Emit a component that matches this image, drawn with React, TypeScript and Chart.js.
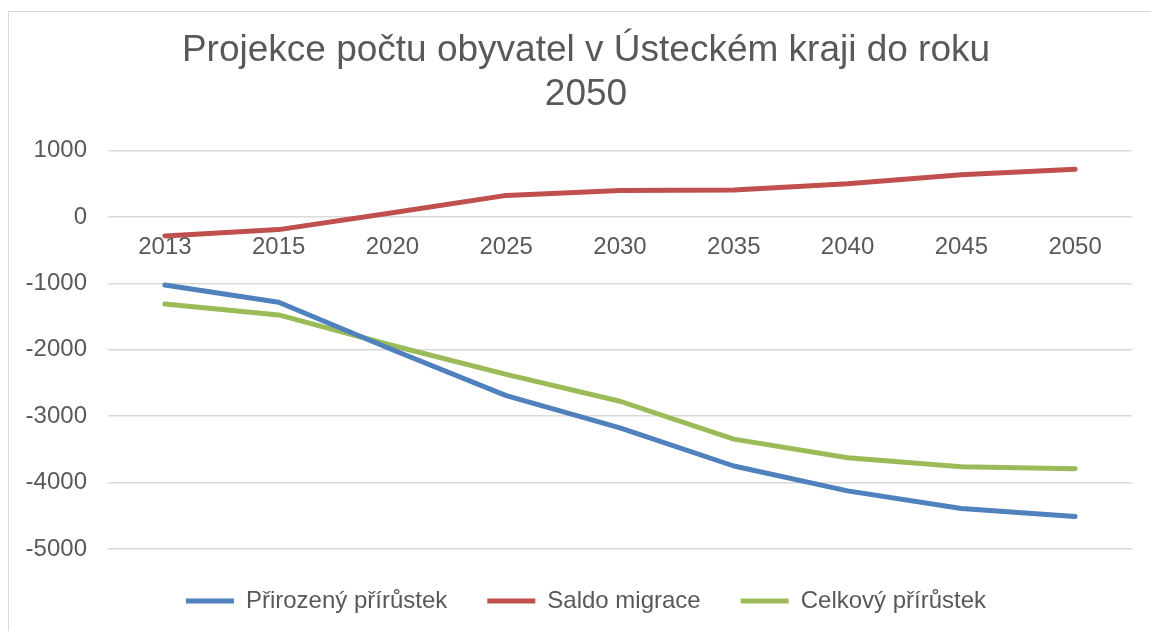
import React, { useEffect, useRef } from "react";
import { Chart, registerables } from "chart.js";

Chart.register(...registerables);

const titleLines = ["Projekce počtu obyvatel v Ústeckém kraji do roku", "2050"];
const years = ["2013", "2015", "2020", "2025", "2030", "2035", "2040", "2045", "2050"];
const prirozenyPrirustek = [-1025, -1285, -2000, -2690, -3175, -3750, -4125, -4390, -4510];
const saldoMigrace = [-285, -190, 65, 325, 400, 405, 500, 635, 720];
const celkovyPrirustek = [-1310, -1475, -1935, -2370, -2775, -3345, -3625, -3760, -3790];
const seriesNames = ["Přirozený přírůstek", "Saldo migrace", "Celkový přírůstek"];
const yMin = -5000;
const yMax = 1000;
const yStep = 1000;

const FONT = "'Liberation Sans', Arial, sans-serif";
const TEXT = "#595959";
const GRID = "#d9d9d9";

export default function App() {
  const ref = useRef<HTMLCanvasElement | null>(null);

  useEffect(() => {
    if (!ref.current) return;
    const mk = (label: string, data: number[], color: string) => ({
      label,
      data,
      borderColor: color,
      backgroundColor: color,
      borderWidth: 5,
      borderCapStyle: "round" as const,
      borderJoinStyle: "round" as const,
      pointRadius: 0,
      pointHoverRadius: 0,
      tension: 0,
      fill: false,
    });
    const chart = new Chart(ref.current, {
      type: "line",
      data: {
        labels: years,
        datasets: [
          mk(seriesNames[0], prirozenyPrirustek, "#4F81BD"),
          mk(seriesNames[1], saldoMigrace, "#C0504D"),
          mk(seriesNames[2], celkovyPrirustek, "#9BBB59"),
        ],
      },
      options: {
        responsive: false,
        animation: false,
        layout: { padding: { left: 31, right: 19, top: 0, bottom: 8 } },
        plugins: {
          title: {
            display: true,
            text: titleLines,
            color: TEXT,
            font: { family: FONT, size: 37, weight: "normal", lineHeight: 1.17 },
            padding: { top: 17.5, bottom: 34.5 },
          },
          legend: {
            position: "bottom",
            labels: {
              usePointStyle: true,
              pointStyle: "line",
              pointStyleWidth: 48,
              boxWidth: 48,
              padding: 40,
              color: TEXT,
              font: { family: FONT, size: 24 },
            },
          },
          tooltip: { enabled: false },
        },
        scales: {
          x: {
            position: { y: 0 } as any,
            offset: true,
            grid: { display: false },
            border: { display: false },
            ticks: {
              color: TEXT,
              font: { family: FONT, size: 24 },
              padding: 8,
              autoSkip: false,
              maxRotation: 0,
            },
            afterFit: (s: any) => {
              s.height = 0;
            },
          },
          y: {
            min: yMin,
            max: yMax,
            grid: { color: GRID, lineWidth: 1.5, drawTicks: false },
            border: { display: false },
            ticks: {
              stepSize: yStep,
              color: TEXT,
              font: { family: FONT, size: 24 },
              padding: 21,
              callback: (v: any) => String(v),
            },
            afterFit: (s: any) => {
              s.width = 68;
              s._computeLabelArea = () => undefined;
            },
          },
        },
      },
    });
    return () => chart.destroy();
  }, []);

  return (
    <div
      style={{
        position: "absolute",
        left: 8,
        top: 11,
        width: 1143,
        height: 620,
        borderLeft: `1px solid ${GRID}`,
        borderTop: `1px solid ${GRID}`,
        boxSizing: "border-box",
        background: "#fff",
        overflow: "hidden",
      }}
    >
      <canvas ref={ref} width={1142} height={619} style={{ display: "block", width: 1142, height: 619 }} />
    </div>
  );
}
